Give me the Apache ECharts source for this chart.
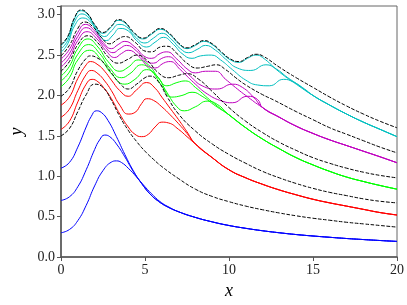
<!DOCTYPE html>
<html><head><meta charset="utf-8">
<script src="https://cdn.jsdelivr.net/npm/echarts@6/dist/echarts.min.js"></script>
<style>html,body{margin:0;padding:0;background:#fff}#c{width:407px;height:305px}</style>
</head><body><div id="c"></div>
<script>
const xTicks = [0, 5, 10, 15, 20];
const yTicks = [0.0, 0.5, 1.0, 1.5, 2.0, 2.5, 3.0];

const blueTail = [[7,0.56],[8,0.49],[9,0.435],[10,0.39],[11,0.355],[12,0.325],[13,0.30],[14,0.278],[15,0.26],[16,0.244],[17,0.229],[18,0.216],[19,0.204],[20,0.193]];
const blue1 = [[0,0.30],[0.5,0.34],[1,0.45],[1.5,0.64],[2,0.88],[2.5,1.07],[3,1.175],[3.3,1.19],[3.6,1.17],[4,1.10],[4.5,0.99],[5,0.87],[5.5,0.76],[6,0.67],[6.5,0.61]];
const blue2 = [[0,0.70],[0.5,0.745],[1,0.87],[1.5,1.08],[2,1.33],[2.3,1.45],[2.6,1.51],[2.9,1.49],[3.3,1.40],[3.8,1.24],[4.3,1.06],[4.8,0.91],[5.3,0.78],[5.8,0.69],[6.3,0.625]];
const blue3 = [[0,1.10],[0.5,1.17],[1,1.36],[1.5,1.61],[1.8,1.74],[2.1,1.81],[2.4,1.79],[2.8,1.69],[3.3,1.49],[3.8,1.27],[4.3,1.07],[4.8,0.91],[5.3,0.78],[5.8,0.69],[6.3,0.625]];

const redTail = [[8,1.40],[9,1.23],[10,1.08],[11,0.98],[12,0.90],[13,0.83],[14,0.77],[15,0.715],[16,0.67],[17,0.63],[18,0.59],[19,0.55],[20,0.52]];
const red1 = [[0,1.58],[0.5,1.68],[1,1.92],[1.5,2.14],[1.85,2.20],[2.2,2.17],[2.6,2.08],[3,1.96],[3.5,1.77],[4,1.61],[4.4,1.52],[4.8,1.49],[5.2,1.52],[5.6,1.61],[6.0,1.67],[6.4,1.66],[7,1.58],[7.5,1.49]];
const red2 = [[0,1.73],[0.5,1.83],[1,2.06],[1.5,2.26],[1.8,2.31],[2.2,2.27],[2.6,2.18],[3,2.06],[3.5,1.88],[4,1.77],[4.4,1.79],[4.8,1.90],[5.1,1.96],[5.5,1.94],[6,1.86],[6.5,1.76],[7,1.65],[7.5,1.53]];
const red3 = [[0,1.88],[0.5,1.98],[1,2.21],[1.5,2.38],[1.75,2.42],[2.2,2.38],[2.6,2.30],[3,2.19],[3.5,2.06],[4.0,1.99],[4.5,2.07],[5.1,2.16],[5.6,2.09],[6,1.98],[6.5,1.84],[7,1.70],[7.5,1.55]];

const greenTail = [[10,1.76],[11,1.60],[12,1.46],[13,1.34],[14,1.23],[15,1.14],[16,1.06],[17,0.99],[18,0.935],[19,0.885],[20,0.84]];
const green1 = [[0,2.11],[0.5,2.22],[1,2.44],[1.7,2.56],[2.4,2.44],[3.0,2.27],[3.8,2.14],[4.4,2.20],[5.1,2.32],[5.7,2.24],[6.3,2.04],[6.9,1.86],[7.34,1.81],[8.0,1.86],[8.7,1.93],[9.3,1.89]];
const green2 = [[0,2.18],[0.5,2.29],[1,2.51],[1.65,2.63],[2.3,2.52],[2.9,2.34],[3.6,2.22],[4.1,2.27],[4.8,2.38],[5.4,2.30],[6.0,2.12],[6.6,1.98],[7.2,2.00],[7.8,2.04],[8.4,1.99],[9.2,1.87]];
const green3 = [[0,2.24],[0.5,2.36],[1,2.58],[1.6,2.70],[2.2,2.60],[2.8,2.42],[3.5,2.30],[4.0,2.35],[4.6,2.44],[5.2,2.38],[5.8,2.22],[6.3,2.12],[6.9,2.16],[7.4,2.18],[8.0,2.10],[9.0,1.92]];

const magTail = [[12,1.85],[13,1.73],[14,1.62],[15,1.53],[16,1.45],[17,1.38],[18,1.31],[19,1.24],[20,1.167]];
const mag1 = [[0,2.35],[0.5,2.47],[1,2.68],[1.55,2.79],[2.1,2.71],[2.7,2.55],[3.2,2.47],[3.6,2.52],[4.0,2.56],[4.6,2.49],[5.2,2.36],[5.6,2.34],[6.1,2.40],[6.5,2.42],[7.1,2.32],[7.9,2.16],[8.7,2.02],[9.6,1.93],[10.2,1.91],[11.1,1.99],[11.7,1.95]];
const mag2 = [[0,2.40],[0.5,2.52],[1,2.73],[1.5,2.84],[2.0,2.77],[2.6,2.61],[3.1,2.53],[3.5,2.58],[3.9,2.62],[4.5,2.55],[5.1,2.42],[5.5,2.40],[6.0,2.46],[6.4,2.48],[7.0,2.38],[7.7,2.24],[8.4,2.12],[9.3,2.08],[10.2,2.14],[10.8,2.10],[11.5,1.97]];
const mag3 = [[0,2.45],[0.5,2.57],[1,2.78],[1.45,2.88],[2.0,2.80],[2.5,2.66],[3.0,2.58],[3.4,2.63],[3.8,2.67],[4.4,2.60],[5.0,2.48],[5.4,2.46],[5.9,2.52],[6.3,2.54],[6.9,2.45],[7.5,2.33],[8.0,2.28],[8.6,2.30],[9.2,2.30],[9.8,2.20],[10.5,2.08],[11,2.00]];

const cyanTail = [[15,2.00],[16,1.88],[17,1.77],[18,1.67],[19,1.58],[20,1.49]];
const cyan1 = [[0,2.535],[0.4,2.64],[0.8,2.86],[1.3,2.96],[1.8,2.90],[2.2,2.77],[2.7,2.68],[3.1,2.75],[3.5,2.83],[4.0,2.80],[4.5,2.68],[5.1,2.60],[5.6,2.66],[6.1,2.72],[6.7,2.63],[7.2,2.52],[7.8,2.46],[8.3,2.49],[8.95,2.50],[9.5,2.44],[10.2,2.32],[11.0,2.19],[11.7,2.13],[12.4,2.12],[13.25,2.20],[13.8,2.17],[14.5,2.08]];
const cyan2 = [[0,2.575],[0.4,2.68],[0.8,2.91],[1.25,3.01],[1.7,2.95],[2.1,2.82],[2.6,2.73],[3.0,2.80],[3.45,2.88],[3.9,2.85],[4.4,2.73],[5.0,2.65],[5.5,2.71],[6.0,2.77],[6.6,2.69],[7.1,2.58],[7.6,2.53],[8.1,2.57],[8.6,2.62],[9.2,2.56],[9.8,2.45],[10.5,2.34],[11.3,2.31],[12.2,2.38],[12.8,2.33],[13.5,2.22],[14,2.15]];
const cyan3 = [[0,2.615],[0.4,2.72],[0.8,2.95],[1.2,3.05],[1.6,3.00],[2.0,2.87],[2.5,2.77],[3.0,2.85],[3.4,2.93],[3.8,2.90],[4.3,2.78],[4.9,2.70],[5.4,2.76],[5.9,2.82],[6.5,2.75],[7.0,2.64],[7.5,2.58],[8.0,2.62],[8.5,2.67],[9.0,2.63],[9.6,2.52],[10.1,2.44],[10.6,2.41],[11.1,2.46],[11.6,2.50],[12.0,2.47],[13,2.29],[14,2.14]];

const dash1 = [[0,1.50],[0.5,1.59],[1,1.80],[1.5,2.01],[2,2.14],[2.5,2.10],[3,1.94],[3.5,1.74],[4,1.57],[4.5,1.43],[5,1.31],[5.5,1.21],[6,1.12],[7,0.97],[8,0.84],[9,0.75],[10,0.685],[11,0.63],[12,0.585],[13,0.545],[14,0.51],[15,0.48],[16,0.455],[17,0.43],[18,0.41],[19,0.39],[20,0.37]];
const dash2 = [[0,1.99],[0.5,2.09],[1,2.31],[1.5,2.46],[1.75,2.49],[2.2,2.46],[2.6,2.39],[3,2.28],[3.5,2.15],[4,2.08],[4.5,2.14],[5,2.22],[5.3,2.24],[5.8,2.17],[6.3,1.99],[7,1.77],[8,1.56],[9,1.40],[10,1.27],[11,1.16],[12,1.06],[13,0.98],[14,0.91],[15,0.85],[16,0.80],[17,0.76],[18,0.72],[19,0.69],[20,0.67]];
const dash3 = [[0,2.30],[0.5,2.42],[1,2.63],[1.6,2.74],[2.2,2.65],[2.8,2.48],[3.4,2.40],[4.0,2.45],[4.5,2.50],[5.1,2.44],[5.8,2.28],[6.4,2.22],[7.0,2.25],[7.5,2.27],[8.2,2.20],[9,2.05],[10,1.85],[11,1.68],[12,1.54],[13,1.42],[14,1.32],[15,1.23],[16,1.16],[17,1.10],[18,1.05],[19,1.01],[20,0.98]];
const dash4 = [[0,2.49],[0.5,2.62],[1,2.83],[1.4,2.91],[1.9,2.85],[2.4,2.72],[2.9,2.64],[3.4,2.70],[3.8,2.73],[4.4,2.66],[5.0,2.55],[5.4,2.54],[5.9,2.60],[6.3,2.61],[6.9,2.52],[7.5,2.40],[8.1,2.34],[8.7,2.36],[9.25,2.38],[9.8,2.32],[10.4,2.22],[11,2.13],[12,2.01],[12.7,1.94],[14,1.80],[15,1.70],[16,1.60],[17,1.52],[18,1.44],[19,1.36],[20,1.29]];
const dash5 = [[0,2.63],[0.4,2.73],[0.8,2.96],[1.2,3.06],[1.6,3.01],[2.0,2.88],[2.5,2.78],[3.0,2.86],[3.4,2.94],[3.8,2.91],[4.3,2.79],[4.9,2.71],[5.4,2.77],[5.9,2.83],[6.5,2.76],[7.0,2.65],[7.5,2.59],[8.0,2.63],[8.5,2.68],[9.0,2.64],[9.6,2.53],[10.1,2.45],[10.6,2.42],[11.1,2.47],[11.6,2.51],[12.0,2.49],[13,2.35],[14,2.22],[15,2.10],[16,1.98],[17,1.87],[18,1.77],[19,1.68],[20,1.60]];

const C = {blue:'#0000ff', red:'#ff0000', green:'#00ff00', mag:'#bf00bf', cyan:'#00bfbf'};
function solid(d, col){ return {type:'line', data:d, showSymbol:false, smooth:0.5, lineStyle:{color:col, width:1}, z:2, silent:true}; }
function dashed(d){ return {type:'line', data:d, showSymbol:false, smooth:0.5, lineStyle:{color:'#000', width:1, type:[3.7,1.6]}, z:3, silent:true}; }

const series = [
  solid(blue1.concat(blueTail), C.blue), solid(blue2.concat(blueTail), C.blue), solid(blue3.concat(blueTail), C.blue),
  solid(red1.concat(redTail), C.red), solid(red2.concat(redTail), C.red), solid(red3.concat(redTail), C.red),
  solid(green1.concat(greenTail), C.green), solid(green2.concat(greenTail), C.green), solid(green3.concat(greenTail), C.green),
  solid(mag1.concat(magTail), C.mag), solid(mag2.concat(magTail), C.mag), solid(mag3.concat(magTail), C.mag),
  solid(cyan1.concat(cyanTail), C.cyan), solid(cyan2.concat(cyanTail), C.cyan), solid(cyan3.concat(cyanTail), C.cyan),
  dashed(dash1), dashed(dash2), dashed(dash3), dashed(dash4), dashed(dash5)
];

const font = "'Liberation Serif', 'DejaVu Serif', serif";
const chart = echarts.init(document.getElementById('c'), null, {renderer:'canvas'});
chart.setOption({
  animation:false,
  grid:{left:61, right:8, top:6, bottom:46, show:true, borderColor:'#666', borderWidth:1},
  xAxis:{type:'value', min:xTicks[0], max:xTicks[xTicks.length-1], interval:5,
    name:'x', nameLocation:'middle', nameGap:25, nameTextStyle:{fontFamily:font, fontStyle:'italic', fontSize:18, color:'#000'},
    axisLine:{lineStyle:{color:'#555', width:1.5}}, axisTick:{show:true, length:4, lineStyle:{color:'#555'}},
    axisLabel:{fontFamily:font, fontSize:14, color:'#222', margin:6}, splitLine:{show:false}},
  yAxis:{type:'value', min:yTicks[0], max:3.108, interval:0.5,
    name:'y', nameLocation:'middle', nameGap:35, nameRotate:90, nameTextStyle:{fontFamily:font, fontStyle:'italic', fontSize:18, color:'#000'},
    axisLine:{lineStyle:{color:'#555', width:1.5}}, axisTick:{show:true, length:4, lineStyle:{color:'#555'}},
    axisLabel:{fontFamily:font, fontSize:14, color:'#222', margin:6, formatter:v=>yTicks.includes(v)?v.toFixed(1):''}, splitLine:{show:false}},
  series: series
});
</script></body></html>
